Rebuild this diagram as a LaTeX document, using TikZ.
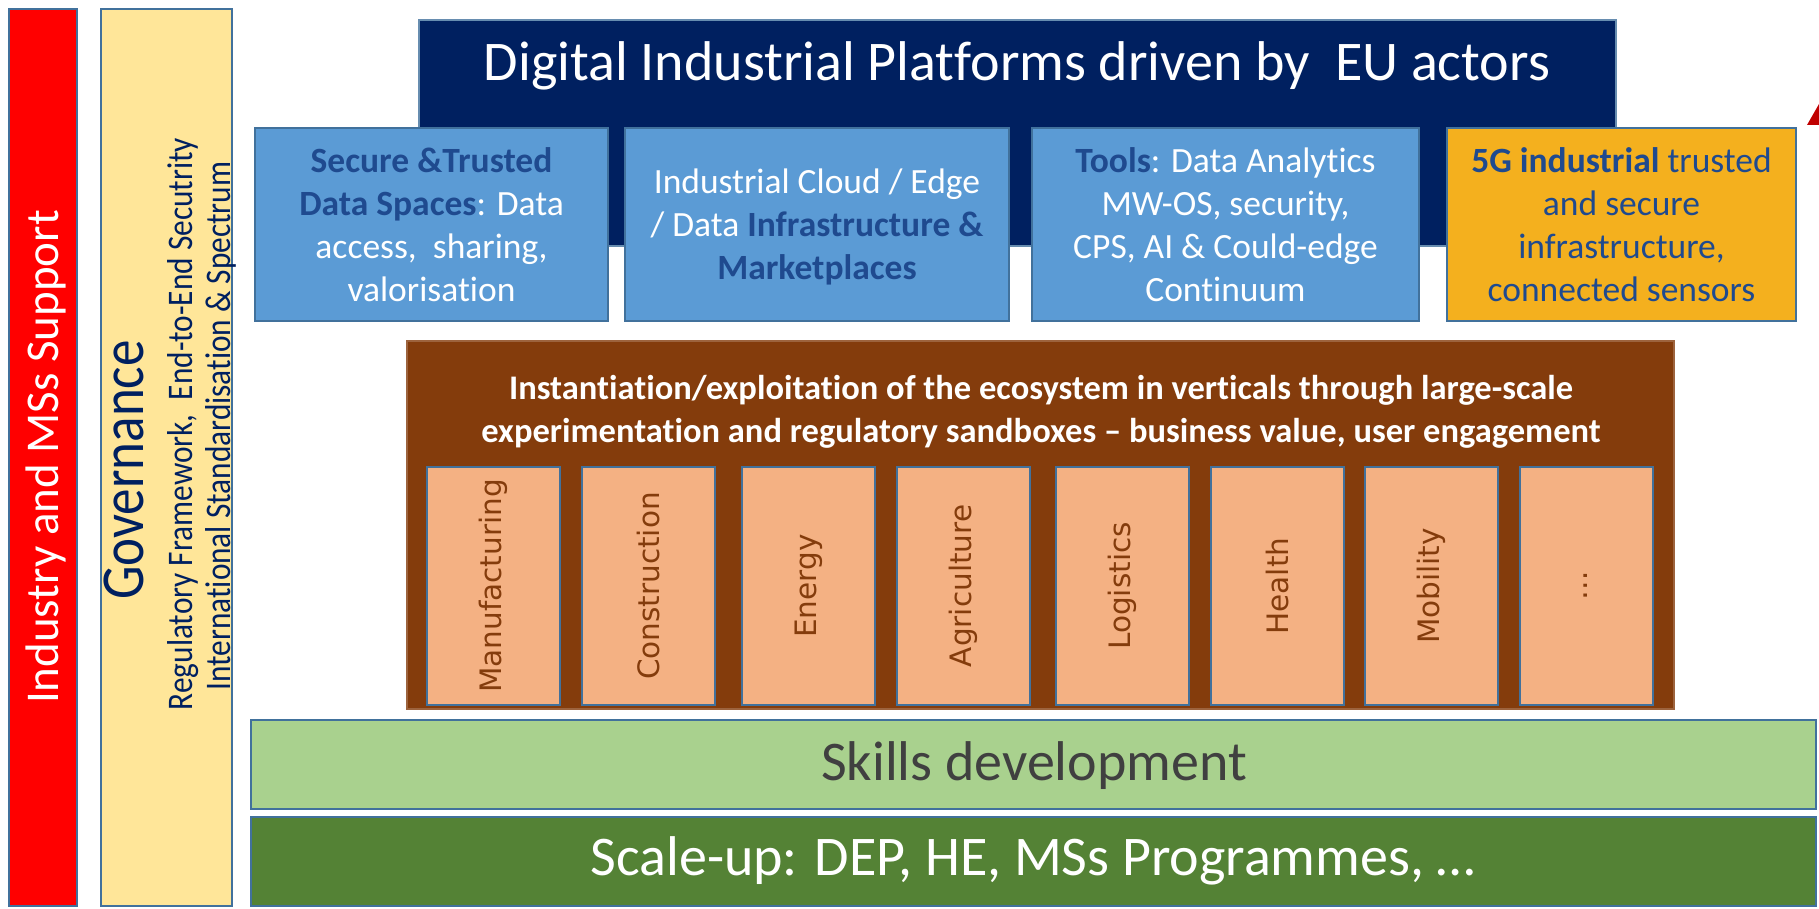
\documentclass[tikz,border=0pt]{standalone}
\usepackage{fontspec}
\setmainfont{Carlito}[RawFeature={-liga}]
\newfontfamily\condf[FakeStretch=0.87,RawFeature={-liga}]{Carlito}
\newfontfamily\verd{DejaVu Sans}
\definecolor{navy}{HTML}{002060}
\definecolor{bluefill}{HTML}{5B9BD5}
\definecolor{bordc}{HTML}{41719C}
\definecolor{txtblue}{HTML}{1F4A8F}
\definecolor{orangefill}{HTML}{F4B01E}
\definecolor{brownfill}{HTML}{843C0C}
\definecolor{sectfill}{HTML}{F4B183}
\definecolor{skillfill}{HTML}{A9D18E}
\definecolor{scalefill}{HTML}{548235}
\definecolor{yellowfill}{HTML}{FFE699}
\definecolor{darkred}{HTML}{C00000}
\definecolor{greytxt}{HTML}{404040}
\begin{document}
\begin{tikzpicture}[x=1pt,y=-1pt,
  box/.style={draw=bordc, line width=2pt, inner sep=0pt, outer sep=0pt, align=center},
  toptxt/.style={font=\fontsize{35.5}{43}\selectfont, align=center, inner sep=0pt},
  secttxt/.style={rotate=90, text=brownfill, font=\verd\fontsize{29.5}{34}\selectfont, inner sep=0pt},
  sidetxt/.style={rotate=90, anchor=base, inner sep=0pt}]
\useasboundingbox (0,0) rectangle (1819,909);
% left columns
\node[box, fill=red, minimum width=68, minimum height=897] (ind) at (43,457.5) {};
\node[sidetxt, text=white, font=\fontsize{47}{52}\selectfont] (indt) at (58,457) {Industry and MSs Support};
\node[box, fill=yellowfill, minimum width=131, minimum height=897] (gov) at (166.5,457.5) {};
\node[sidetxt, text=navy, font=\condf\fontsize{61}{70}\selectfont] (govt) at (143,470) {Governance};
\node[sidetxt, text=navy, font=\condf\fontsize{36}{41}\selectfont] (govs1) at (192,424) {Regulatory Framework,\ \ End-to-End Secutrity};
\node[sidetxt, text=navy, font=\condf\fontsize{36}{41}\selectfont] (govs2) at (230,426) {International Standardisation \& Spectrum};
% top platform
\node[box, draw=bordc!80, fill=navy, minimum width=1197, minimum height=226] (plat) at (1017.5,133) {};
\node[text=white, font=\fontsize{56}{64}\selectfont, inner sep=0pt] (platt) at (1017,66) {Digital Industrial Platforms driven by\ \ EU actors};
% top row boxes
\node[box, fill=bluefill, minimum width=353, minimum height=193] (b1) at (431.5,224.5) {};
\node[toptxt, text=white] (b1t) at (431.5,225) {\textcolor{txtblue}{\bfseries Secure \&Trusted}\\\textcolor{txtblue}{\bfseries Data Spaces}: Data\\access,\ \ sharing,\\valorisation};
\node[box, fill=bluefill, minimum width=384, minimum height=193] (b2) at (817,224.5) {};
\node[toptxt, text=white] (b2t) at (817,227) {Industrial Cloud / Edge\\/ Data \textcolor{txtblue}{\bfseries Infrastructure \&}\\\textcolor{txtblue}{\bfseries Marketplaces}};
\node[box, fill=bluefill, minimum width=387, minimum height=193] (b3) at (1225.5,224.5) {};
\node[toptxt, text=white] (b3t) at (1225.5,225) {\textcolor{txtblue}{\bfseries Tools}: Data Analytics\\MW-OS, security,\\CPS, AI \& Could-edge\\Continuum};
\node[box, fill=orangefill, minimum width=349, minimum height=193] (b4) at (1621.5,224.5) {};
\node[toptxt, text=txtblue] (b4t) at (1621.5,225) {{\bfseries 5G industrial} trusted\\and secure\\infrastructure,\\connected sensors};
\fill[darkred] (1807,125) -- (1819,125) -- (1819,104) -- cycle;
% verticals
\node[box, draw=brownfill!80!white, fill=brownfill, minimum width=1267, minimum height=368] (br) at (1040.5,525) {};
\node[text=white, font=\bfseries\fontsize{34.5}{43}\selectfont, align=center, inner sep=0pt] (brt) at (1041,412) {Instantiation/exploitation of the ecosystem in verticals through large-scale\\experimentation and regulatory sandboxes -- business value, user engagement};
\foreach \cx/\lab/\nm in {493/Manufacturing/s1, 648.5/Construction/s2, 808.5/Energy/s3, 963.5/Agriculture/s4, 1122.5/Logistics/s5, 1277/Health/s6, 1431/Mobility/s7, 1586/\dots/s8}{
  \node[box, fill=sectfill, minimum width=133, minimum height=238] (\nm) at (\cx,585.5) {};
  \node[secttxt] (\nm t) at (\cx,586) {\lab};
}
% bottom bars
\node[box, fill=skillfill, minimum width=1565, minimum height=89] (sk) at (1033.5,764.5) {};
\node[text=greytxt, font=\fontsize{56}{64}\selectfont, inner sep=0pt] (skt) at (1034,766) {Skills development};
\node[box, fill=scalefill, minimum width=1565, minimum height=89] (sc) at (1033.5,861.5) {};
\node[text=white, font=\fontsize{56}{64}\selectfont, inner sep=0pt] (sct) at (1033,861) {Scale-up: DEP, HE, MSs Programmes, …};
\end{tikzpicture}
\end{document}
